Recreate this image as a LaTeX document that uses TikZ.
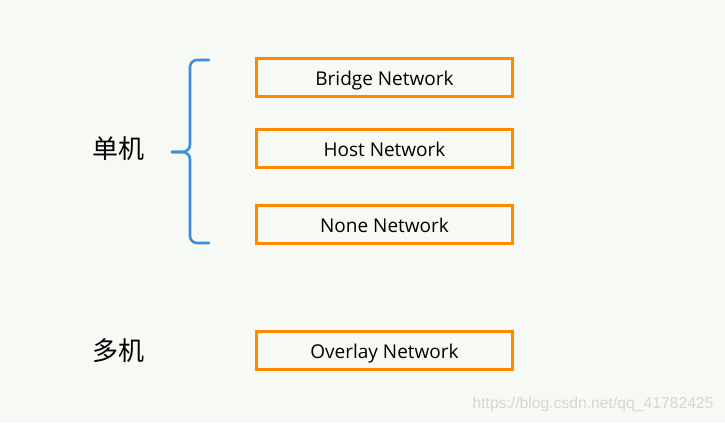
\documentclass[tikz,border=0pt]{standalone}
\usepackage{fontspec}
\setmainfont{Open Sans}
\newfontfamily\cjk{Noto Sans CJK SC}
\newfontfamily\markfont{Liberation Sans}
\usetikzlibrary{positioning}

\definecolor{netorange}{HTML}{FF8A00}
\definecolor{braceblue}{HTML}{3A8FD8}
\definecolor{paper}{HTML}{F7F9F5}

\tikzset{
  netbox/.style={draw=netorange, line width=2.6pt, fill=paper,
    minimum width=256pt, minimum height=38pt, inner sep=0pt,
    text height=17pt, text depth=0.4pt,
    font=\fontsize{19}{21}\selectfont},
  modelabel/.style={font=\cjk\fontsize{26}{28}\selectfont},
  bracepath/.style={draw=braceblue, line width=2.6pt, line cap=round}
}

\begin{document}
\begin{tikzpicture}[x=1pt,y=-1pt]
  % canvas, same size as the screenshot
  \fill[paper] (0,0) rectangle (725,423);
  \useasboundingbox (0,0) rectangle (725,423);

  % the four network drivers
  \node[netbox] (bridge) at (384.5,77.5) {Bridge Network};
  \node[netbox] (host) at (384.5,148.5) {Host Network};
  \node[netbox] (none) at (384.5,224.5) {None Network};
  \node[netbox] (overlay) at (384.5,350.5) {Overlay Network};

  % single host / multi host
  \node[modelabel] (single) at (118,149) {单机};
  \node[modelabel] (multi) at (118,351) {多机};

  % curly brace grouping the single host drivers
  \path[bracepath] (209,60) -- (197,60) to[out=180,in=90] (190,67)
    -- (190,145) to[out=-90,in=0] (182,152) -- (172,152);
  \path[bracepath] (172,152) -- (182,152) to[out=0,in=90] (190,159)
    -- (190,236) to[out=-90,in=180] (197,243) -- (209,243);

  % watermark
  \node[text=black!16, font=\markfont\fontsize{15.7}{18}\selectfont, anchor=east] (mark) at (717,404) {https://blog.csdn.net/qq\_41782425};
\end{tikzpicture}
\end{document}
